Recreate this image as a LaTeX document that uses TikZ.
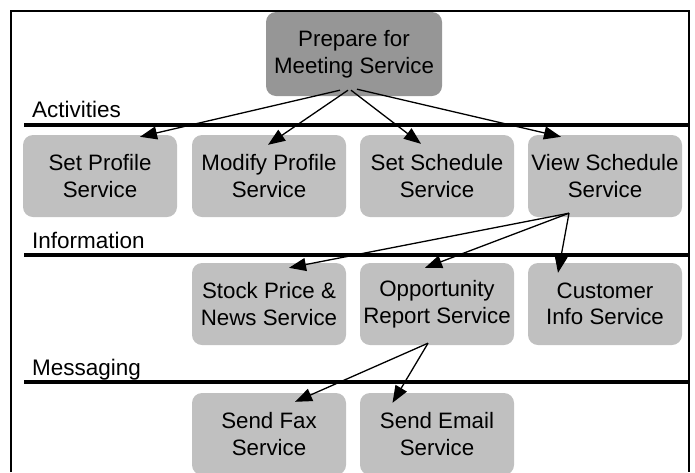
\documentclass[tikz,border=0pt]{standalone}
\usepackage{fontspec}
\setmainfont{Liberation Sans}
\usetikzlibrary{arrows.meta,calc}
\definecolor{boxlight}{RGB}{192,192,192}
\definecolor{boxdark}{RGB}{150,150,150}
\begin{document}
\begin{tikzpicture}[x=1pt,y=-1pt,
  svc/.style={fill=boxlight,rounded corners=10pt,minimum width=154pt,minimum height=82pt,inner sep=0pt,align=center,font=\fontsize{22.3}{26.5}\selectfont},
  topsvc/.style={svc,fill=boxdark,minimum width=176pt,minimum height=84pt},
  lane/.style={line width=4pt},
  lanelabel/.style={anchor=base west,inner sep=0pt,font=\fontsize{22.5}{26}\selectfont},
  arr/.style={line width=1.3pt,-{Triangle[length=17pt,width=13pt]}},
  frame/.style={line width=1.5pt}]
\useasboundingbox (0,0) rectangle (695,472);
% frame
\draw[frame] (11,472) -- (11,11) -- (689,11) -- (689,472);
% lanes
\draw[lane] (24,125) -- (688,125);
\draw[lane] (24,255) -- (688,255);
\draw[lane] (24,382) -- (688,382);
\node[lanelabel] (lA) at (32,117) {Activities};
\node[lanelabel] (lI) at (32,248) {Information};
\node[lanelabel] (lM) at (32,375) {Messaging};
% nodes
\node[topsvc] (top) at (354,54) {Prepare for\\Meeting Service};
\node[svc] (b1) at (100,176) {Set Profile\\Service};
\node[svc] (b2) at (269,176) {Modify Profile\\Service};
\node[svc] (b3) at (437,176) {Set Schedule\\Service};
\node[svc] (b4) at (605,176) {View Schedule\\Service};
\node[svc] (s1) at (269,304) {Stock Price \&\\News Service};
\node[svc] (s2) at (437,304) {Opportunity\\Report Service};
\node[svc] (s3) at (605,304) {Customer\\Info Service};
\node[svc] (m1) at (269,434) {Send Fax\\Service};
\node[svc] (m2) at (437,434) {Send Email\\Service};
% arrows
\draw[arr] ($(top.south)+(-14,-6)$) -- ($(b1.north)+(40,2)$);
\draw[arr] ($(top.south)+(-6,-6)$) -- ($(b2.north)+(-1,10)$);
\draw[arr] ($(top.south)+(-3,-6)$) -- ($(b3.north)+(-16,9)$);
\draw[arr] ($(top.south)+(3,-7)$) -- ($(b4.north)+(-44,2)$);
\draw[arr] ($(b4.south)+(-36,-4)$) -- ($(s1.north)+(20,5)$);
\draw[arr] ($(b4.south)+(-36,-4)$) -- ($(s2.north)+(-12,5)$);
\draw[arr] ($(b4.south)+(-36,-4)$) -- ($(s3.north)+(-47,10)$);
\draw[arr] ($(s2.south)+(-9,-2)$) -- ($(m1.north)+(26,9)$);
\draw[arr] ($(s2.south)+(-9,-2)$) -- ($(m2.north)+(-44.5,10)$);
\end{tikzpicture}
\end{document}
